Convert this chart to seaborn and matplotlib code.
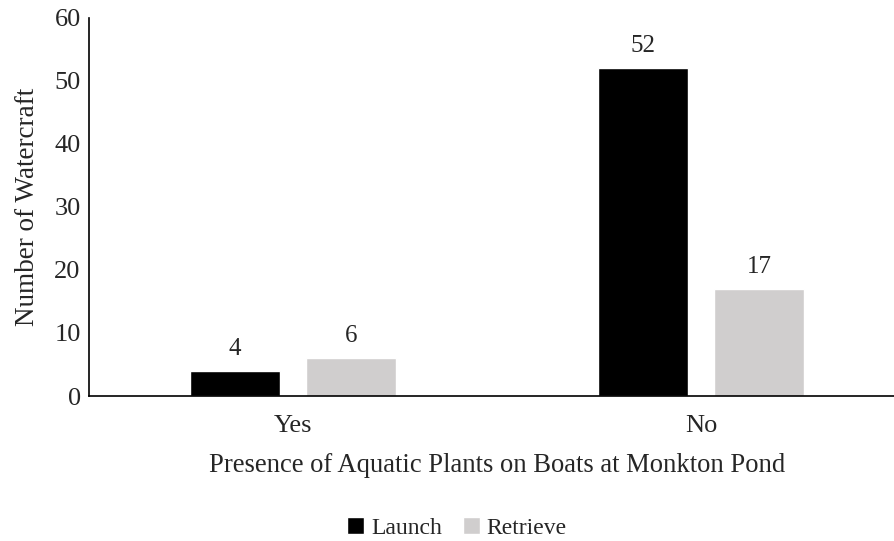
import matplotlib
matplotlib.use('Agg')
import matplotlib.pyplot as plt
import seaborn as sns
import pandas as pd

# values
categories = ['Yes', 'No']
launch = [4, 52]
retrieve = [6, 17]
series = ['Launch', 'Retrieve']
colors = ['#000000', '#d0cece']

df = pd.DataFrame({
    'presence': categories * 2,
    'count': launch + retrieve,
    'kind': [series[0]] * 2 + [series[1]] * 2,
})

sns.set_style('white')
plt.rcParams['font.family'] = ['Liberation Serif', 'DejaVu Serif']

fig = plt.figure(figsize=(8.94, 5.41), dpi=100)
# axes runs past the right edge, like the reference
ax = fig.add_axes([89 / 894, 0.268, 816 / 894, 0.6993])
sns.barplot(data=df, x='presence', y='count', hue='kind', palette=colors,
            width=0.569, gap=0.224, saturation=1, ax=ax, legend=True)

for cont in ax.containers:
    ax.bar_label(cont, padding=8, fontsize=18)

ax.set_ylim(0, 60)
ax.set_yticks(range(0, 61, 10))
ax.tick_params(axis='y', labelsize=19, length=0, pad=6)
ax.tick_params(axis='x', labelsize=19, length=0, pad=14)
ax.set_xlabel('Presence of Aquatic Plants on Boats at Monkton Pond', fontsize=19.2, labelpad=11)
ax.set_ylabel('Number of Watercraft', fontsize=19.5, labelpad=10)
sns.despine(ax=ax)
for s in ['left', 'bottom']:
    ax.spines[s].set_color('black')
    ax.spines[s].set_linewidth(1.2)

handles, labels = ax.get_legend_handles_labels()
ax.get_legend().remove()
fig.legend(handles, labels, loc='lower center', bbox_to_anchor=(457 / 894, -0.035), ncol=2,
           frameon=False, fontsize=17, handlelength=0.7, handleheight=0.7,
           handletextpad=0.3, columnspacing=0.9)

fig.savefig('out.png', dpi=100)
